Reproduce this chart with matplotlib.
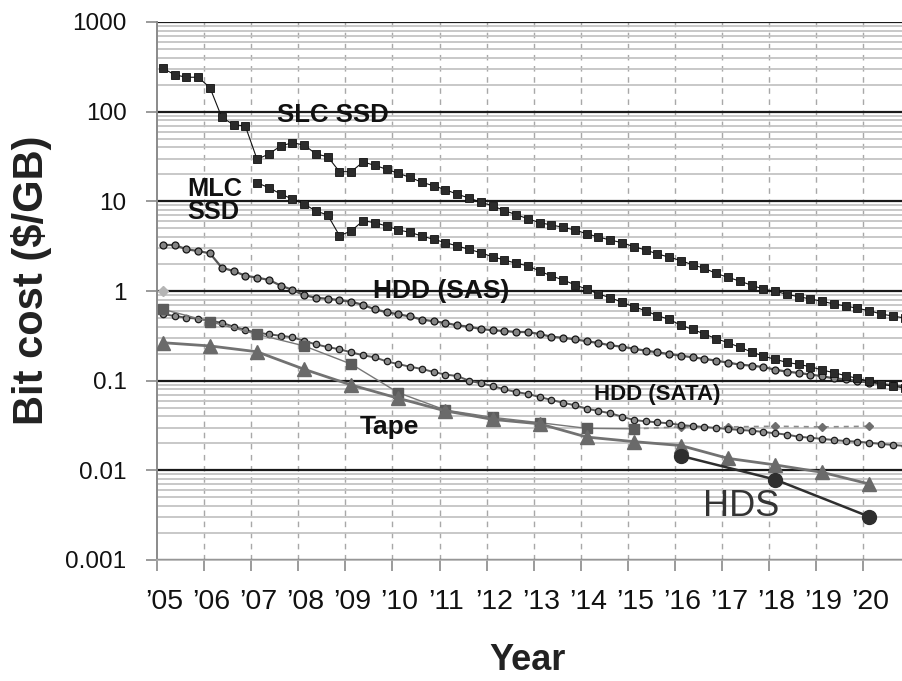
import numpy as np
import matplotlib
matplotlib.use('Agg')
import matplotlib.pyplot as plt
import matplotlib.font_manager as fm
import matplotlib.transforms as mtransforms
from matplotlib.ticker import LogLocator, NullFormatter

# ---- data ----
# quarterly series, first point is Q1 of the start year
slc_start = 2005
slc_ssd = [305, 258, 242, 242, 185, 86.5, 71.6, 69.2,
           29.4, 33.7, 41.4, 45, 42.5, 33.7, 31.5, 21.4,
           21.4, 27.5, 25.2, 22.8, 20.5, 18.5, 16.3, 14.9,
           13.5, 12.0, 10.9, 9.8, 8.9, 7.9, 7.1, 6.4,
           5.78, 5.45, 5.13, 4.79, 4.35, 4.00, 3.70, 3.46,
           3.12, 2.87, 2.59, 2.39, 2.18, 1.96, 1.79, 1.57,
           1.42, 1.29, 1.16, 1.05, 0.99, 0.92, 0.864, 0.814,
           0.768, 0.716, 0.681, 0.641, 0.603, 0.554, 0.526, 0.50]

mlc_start = 2007
mlc_ssd = [16.1, 14.2, 12.1, 10.6, 9.33, 7.8, 7.03, 4.14,
           4.67, 6.08, 5.78, 5.31, 4.79, 4.51, 4.10, 3.77,
           3.46, 3.18, 2.92, 2.67, 2.41, 2.22, 2.04, 1.91,
           1.67, 1.47, 1.33, 1.17, 1.05, 0.926, 0.842, 0.748,
           0.668, 0.603, 0.530, 0.484, 0.414, 0.374, 0.331, 0.294,
           0.265, 0.236, 0.209, 0.188, 0.173, 0.160, 0.152, 0.143,
           0.1315, 0.1227, 0.1136, 0.106, 0.099, 0.0918, 0.0865, 0.083]

sas_start = 2005
hdd_sas = [3.26, 3.26, 2.92, 2.79, 2.63, 1.82, 1.67, 1.48,
           1.41, 1.33, 1.15, 1.03, 0.90, 0.84, 0.82, 0.79,
           0.76, 0.70, 0.625, 0.58, 0.55, 0.52, 0.48, 0.46,
           0.44, 0.414, 0.400, 0.377, 0.365, 0.358, 0.349, 0.349,
           0.331, 0.309, 0.301, 0.289, 0.275, 0.263, 0.248, 0.239,
           0.227, 0.216, 0.207, 0.198, 0.190, 0.182, 0.175, 0.167,
           0.159, 0.151, 0.147, 0.142, 0.1325, 0.126, 0.122, 0.117,
           0.112, 0.106, 0.1035, 0.099, 0.095, 0.092, 0.089, 0.0857]

sata_start = 2005
hdd_sata = [0.554, 0.526, 0.504, 0.491, 0.466, 0.443, 0.400, 0.367,
            0.343, 0.329, 0.317, 0.305, 0.277, 0.254, 0.237, 0.224,
            0.207, 0.192, 0.182, 0.164, 0.153, 0.143, 0.135, 0.125,
            0.117, 0.1127, 0.100, 0.0935, 0.0872, 0.0801, 0.0748, 0.0710,
            0.0658, 0.0609, 0.0568, 0.0531, 0.0487, 0.0459, 0.0433, 0.0397,
            0.0364, 0.0352, 0.0343, 0.0334, 0.0320, 0.0312, 0.0304, 0.0297,
            0.0289, 0.0282, 0.0277, 0.0268, 0.0259, 0.0250, 0.0237, 0.0231,
            0.0224, 0.0218, 0.0212, 0.0209, 0.0203, 0.0197, 0.0192, 0.0187]

# yearly series
tape_years = list(range(2005, 2016))
tape = [0.625, 0.455, 0.329, 0.244, 0.153, 0.0734, 0.047, 0.039, 0.034, 0.0294, 0.029]

tri_years = list(range(2005, 2021))
tri_cost = [0.265, 0.244, 0.21, 0.134, 0.0895, 0.0636, 0.046, 0.037,
            0.033, 0.0235, 0.0209, 0.0189, 0.0136, 0.0115, 0.0095, 0.00704]

hds_years = [2016, 2018, 2020]
hds = [0.0145, 0.0079, 0.00304]

dash_years = [2015, 2016, 2017, 2018, 2019, 2020]
dash_cost = [0.029, 0.0305, 0.0305, 0.031, 0.0305, 0.031]
lone_year = 2005
lone_cost = 1.0

year_labels = ["\u2019%02d" % (y % 100) for y in range(2005, 2021)]
y_ticks = [0.001, 0.01, 0.1, 1, 10, 100, 1000]
y_labels = ['0.001', '0.01', '0.1', '1', '10', '100', '1000']

# ---- fonts ----
names = {f.name for f in fm.fontManager.ttflist}
base = 'Liberation Sans' if 'Liberation Sans' in names else 'DejaVu Sans'
narrow = 'Liberation Sans Narrow' if 'Liberation Sans Narrow' in names else base
plt.rcParams['font.family'] = [base, 'DejaVu Sans']


def quarters(start, n):
    return start + 0.125 + 0.25 * np.arange(n)


fig = plt.figure(figsize=(9.02, 6.81), dpi=100)
ax = fig.add_axes([157 / 902, 121 / 681, 745 / 902, 538 / 681])
ax.set_yscale('log')
ax.set_ylim(0.001, 1000)
ax.set_xlim(2005, 2020.82)

# grid
ax.yaxis.set_minor_locator(LogLocator(base=10, subs=np.arange(2, 10)))
ax.yaxis.set_minor_formatter(NullFormatter())
ax.grid(which='minor', axis='y', color='#c4c4c4', lw=1.3, zorder=0)
ax.grid(which='major', axis='y', color='#1a1a1a', lw=1.6, zorder=0)
for yr in range(2006, 2021):
    ax.axvline(yr, color='#a8a8a8', lw=1.0, ls=(0, (4, 4)), zorder=0)

# series
ax.plot(quarters(slc_start, len(slc_ssd)), slc_ssd, color='#111111', lw=0.8,
        marker='s', ms=5.8, mfc='#2b2b2b', mec='#111111', mew=0.6, zorder=5)
ax.plot(quarters(mlc_start, len(mlc_ssd)), mlc_ssd, color='#111111', lw=0.8,
        marker='s', ms=5.8, mfc='#2b2b2b', mec='#111111', mew=0.6, zorder=5)
ax.plot(quarters(sas_start, len(hdd_sas)), hdd_sas, color='#555555', lw=1.6,
        marker='o', ms=5, mfc='#858585', mec='#151515', mew=0.9, zorder=4)
ax.plot(quarters(sata_start, len(hdd_sata)), hdd_sata, color='#5a5a5a', lw=1.4,
        marker='o', ms=4.6, mfc='#8c8c8c', mec='#1c1c1c', mew=0.9, zorder=4)
ax.plot(np.array(dash_years) + 0.125, dash_cost, color='#8a8a8a', lw=1.2,
        ls=(0, (3, 3)), marker='D', ms=4.5, mfc='#6e6e6e', mec='#6e6e6e', zorder=3)
ax.plot([lone_year + 0.125], [lone_cost], ls='none', marker='D', ms=5,
        mfc='#b5b5b5', mec='#b5b5b5', zorder=3)
ax.plot(np.array(tape_years) + 0.125, tape, color='#777777', lw=1.0,
        marker='s', ms=7.5, mfc='#5c5c5c', mec='#5c5c5c', zorder=6)
ax.plot(np.array(tri_years) + 0.125, tri_cost, color='#727272', lw=2.0,
        marker='^', ms=10, mfc='#6a6a6a', mec='#6a6a6a', zorder=7)
ax.plot(np.array(hds_years) + 0.125, hds, color='#2e2e2e', lw=1.8,
        marker='o', ms=10, mfc='#2e2e2e', mec='#2e2e2e', zorder=8)

# labels on the chart
bold = dict(fontweight='bold', color='#111111', zorder=10)
ax.text(2008.74, 92, 'SLC SSD', ha='center', va='center', fontsize=18.5, **bold)
ax.text(2005.64, 10.3, 'MLC\nSSD', ha='left', va='center', fontsize=18.3,
        linespacing=0.95, **bold)
ax.text(2011.03, 1.0, 'HDD (SAS)', ha='center', va='center', fontsize=19, **bold)
ax.text(2015.62, 0.07, 'HDD (SATA)', ha='center', va='center', fontsize=16, **bold)
ax.text(2009.93, 0.0305, 'Tape', ha='center', va='center', fontsize=19, **bold)
ax.text(2017.40, 0.0040, 'HDS', ha='center', va='center', fontsize=26,
        color='#333333', zorder=10)

# axes styling
for s in ['top', 'right']:
    ax.spines[s].set_visible(False)
ax.spines['left'].set_color('#8a8a8a')
ax.spines['left'].set_linewidth(1.4)
ax.spines['bottom'].set_color('#b0b0b0')
ax.spines['bottom'].set_linewidth(1.2)

ax.set_yticks(y_ticks)
ax.set_yticklabels(y_labels, fontsize=17.5)
ax.tick_params(axis='y', which='major', length=8, width=1.2, color='#8a8a8a',
               pad=14, labelcolor='#111111')
ax.tick_params(axis='y', which='minor', length=0)

ax.set_xticks(range(2005, 2021))
ax.set_xticklabels(year_labels, fontsize=20.5, family=[narrow, base])
ax.tick_params(axis='x', length=8, width=1.2, color='#8a8a8a', pad=13,
               labelcolor='#111111')
shift = mtransforms.ScaledTranslation(7 / 100, 0, fig.dpi_scale_trans)
for lab in ax.get_xticklabels():
    lab.set_transform(lab.get_transform() + shift)

fig.text(31 / 902, 1 - 280 / 681, 'Bit cost ($/GB)', rotation=90, ha='center',
         va='center', fontsize=30, fontweight='bold', color='#222222')
fig.text(528 / 902, 1 - 660 / 681, 'Year', ha='center', va='center',
         fontsize=26, fontweight='bold', color='#222222')

fig.savefig('out.png', dpi=100)
